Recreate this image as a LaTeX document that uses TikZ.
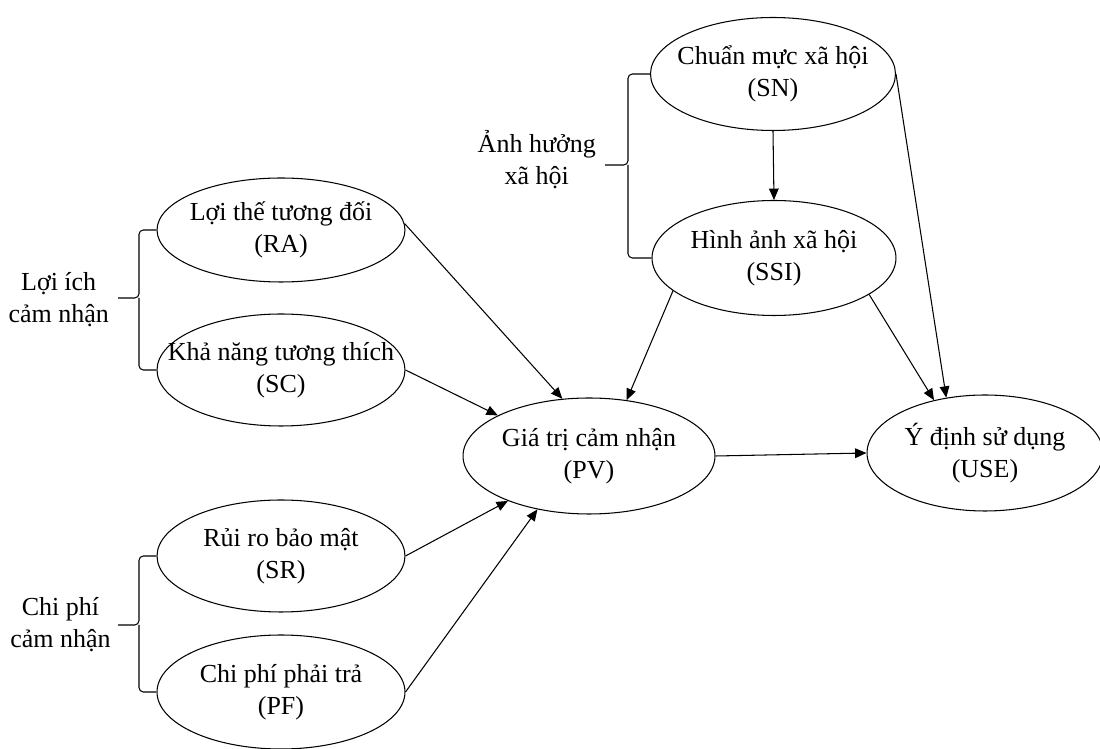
\documentclass[tikz,border=0pt]{standalone}
\usepackage{fontspec}
\setmainfont{Liberation Serif}
\usetikzlibrary{positioning,shapes.geometric,arrows.meta}
\tikzset{
  construct/.style={shape=ellipse,draw,line width=0.6pt,inner xsep=-0.6cm,
    inner ysep=-0.2cm,align=center,font=\fontsize{14.8}{18.2}\selectfont},
  group/.style={align=center,inner sep=0pt,
    font=\fontsize{14.8}{18.2}\selectfont},
  path/.style={draw,line width=0.6pt,-{Triangle[length=6.5pt,width=5.5pt]}},
  bracket/.style={draw,line width=0.6pt,rounded corners=2.5pt}
}
\begin{document}
\begin{tikzpicture}[x=0.02cm,y=-0.02cm]
    \useasboundingbox (0,0) rectangle (1100,749);
    \node (SN) [construct,minimum width=4.9cm,minimum height=2.26cm] at (773,74)
      {Chuẩn mực xã hội\\(SN)};
    \node (SSI) [construct,minimum width=4.88cm,minimum height=2.3cm] at (774,258)
      {Hình ảnh xã hội\\(SSI)};
    \node (RA) [construct,minimum width=4.96cm,minimum height=2.08cm] at (281,230)
      {Lợi thế tương đối\\(RA)};
    \node (SC) [construct,minimum width=4.96cm,minimum height=2.24cm] at (281,370)
      {Khả năng tương thích\\(SC)};
    \node (SR) [construct,minimum width=4.96cm,minimum height=2.24cm] at (281,556)
      {Rủi ro bảo mật\\(SR)};
    \node (PF) [construct,minimum width=4.96cm,minimum height=2.28cm] at (281,692)
      {Chi phí phải trả\\(PF)};
    \node (PV) [construct,minimum width=5.04cm,minimum height=2.32cm] at (589,456)
      {Giá trị cảm nhận\\(PV)};
    \node (USE) [construct,minimum width=4.72cm,minimum height=2.32cm] at (985,453)
      {Ý định sử dụng\\(USE)};
    % braces of the groups
    \coordinate (tipPB) at (118,298);
    \coordinate (tipPC) at (118,625);
    \coordinate (tipSI) at (605,165);
    \draw [bracket] (RA.west) -| (139,298) -- (tipPB);
    \draw [bracket] (SC.west) -| (139,298);
    \draw [bracket] (SR.west) -| (139,625) -- (tipPC);
    \draw [bracket] (PF.west) -| (139,625);
    \draw [bracket] (SN.west) -| (628,165) -- (tipSI);
    \draw [bracket] (SSI.west) -| (628,165);
    \node (PB) [group,anchor=east,xshift=-5pt,yshift=-1pt] at (tipPB) {Lợi ích\\cảm nhận};
    \node (PC) [group,anchor=east,xshift=-4pt] at (tipPC) {Chi phí\\cảm nhận};
    \node (SI) [group,anchor=east,xshift=-5pt,yshift=3pt] at (tipSI) {Ảnh hưởng\\xã hội};
    % paths
    \path [path] (RA.3) -- (PV.115);
    \path [path] (SC.east) -- (PV.156);
    \path [path] (SR.east) -- (PV.209);
    \path [path] (PF.east) -- (PV.226);
    \path [path] (SSI.198) -- (PV.56);
    \path [path] (SN.south) -- (SSI.north);
    \path [path] (SN.east) -- (USE.125);
    \path [path] (SSI.-21) -- (USE.134);
    \path [path] (PV.east) -- (USE.west);
\end{tikzpicture}
\end{document}
